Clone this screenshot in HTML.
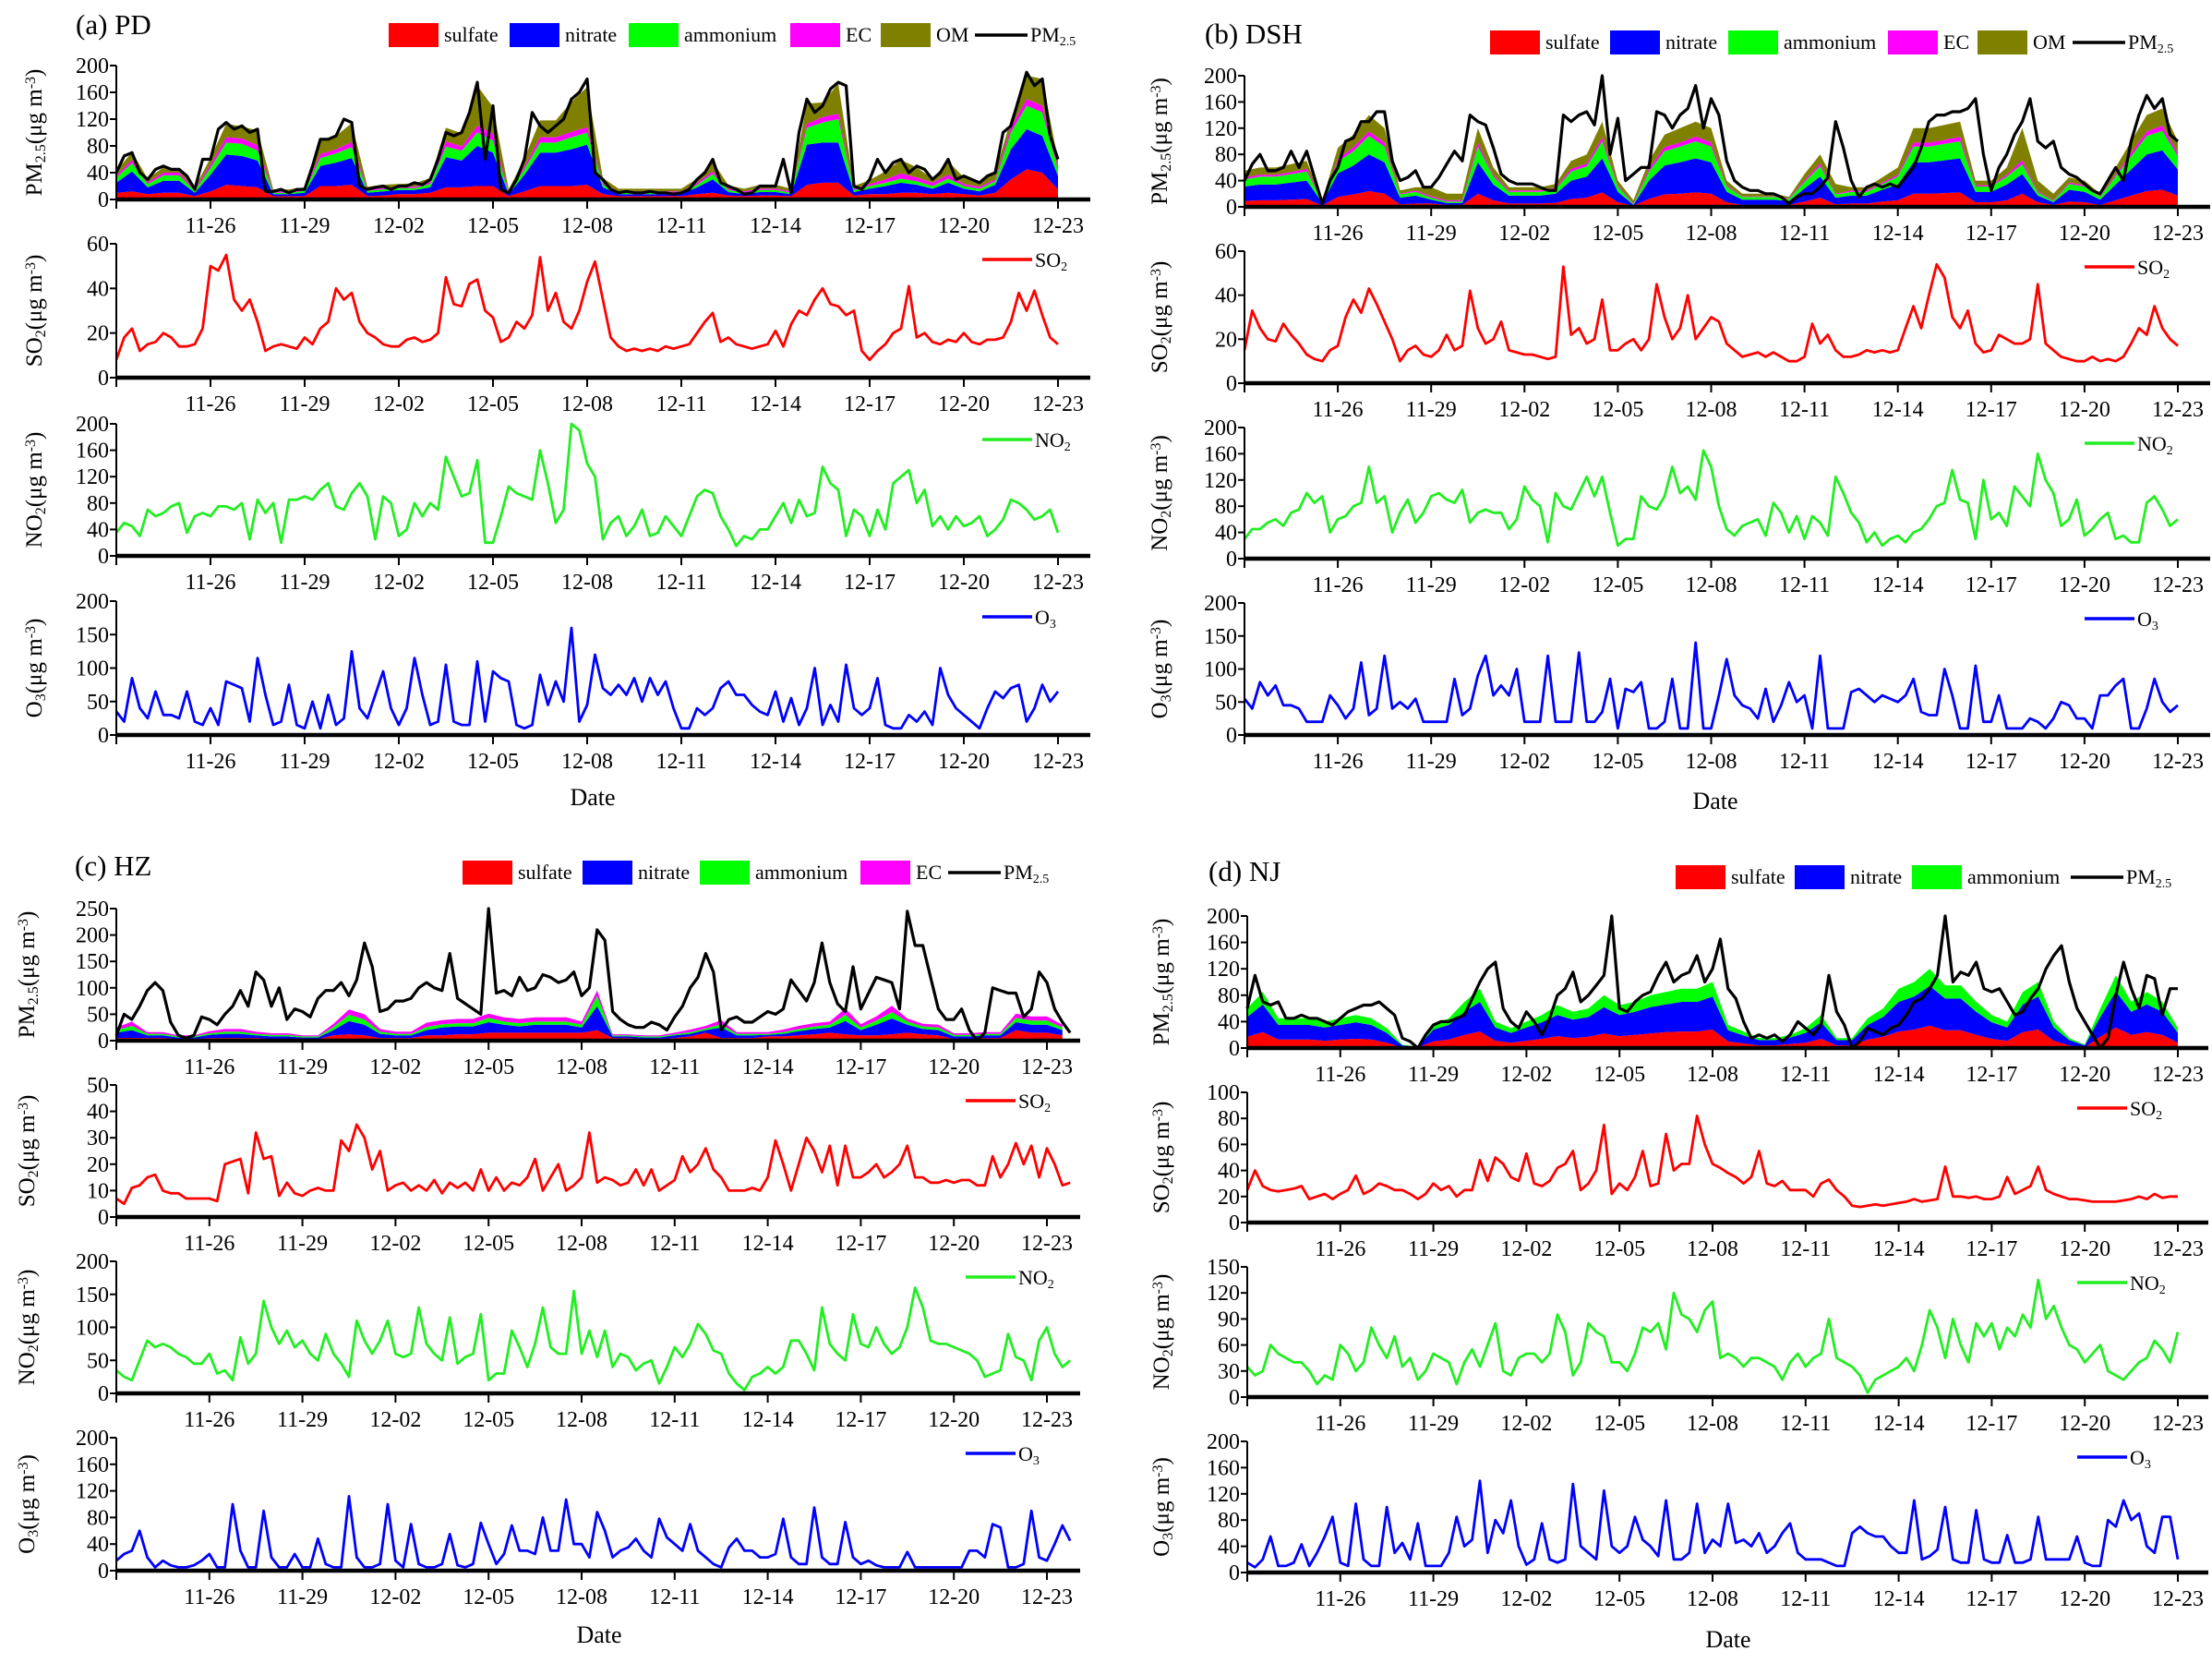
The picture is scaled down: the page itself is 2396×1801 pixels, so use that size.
<!DOCTYPE html>
<html><head><meta charset="utf-8">
<style>
html,body{margin:0;padding:0;background:#fff;}
svg{display:block;font-family:"Liberation Serif","DejaVu Serif",serif;}
</style></head>
<body>
<svg id="fig" xmlns="http://www.w3.org/2000/svg" width="2396" height="1801" viewBox="0 0 2396 1801">
<rect width="2396" height="1801" fill="#fff"/>
</svg>
<script>
// ---------- shared axis data ----------
const tickDays = [3,6,9,12,15,18,21,24,27,30];
const tickLabels = ['11-26','11-29','12-02','12-05','12-08','12-11','12-14','12-17','12-20','12-23'];

// ---------- (a) PD : 6-hourly lines, 12-hourly components ----------
const pdPM = [40,65,70,40, 30,45,50,45, 45,35,15,60, 60,105,115,105, 110,100,105,12, 12,15,10,15, 15,50,90,90, 95,120,115,20, 15,18,20,15, 20,20,25,22, 30,60,100,95, 100,130,175,60, 140,15,10,30, 60,130,110,100, 110,120,150,160, 180,40,30,15, 10,12,10,10, 12,10,10,8, 10,15,30,40, 60,25,20,15, 8,10,20,20, 20,60,10,100, 150,130,140,165, 175,170,20,15, 30,60,40,55, 60,40,50,45, 30,40,60,30, 35,30,25,35, 40,100,110,150, 190,170,180,95, 60];
const pdSulfate = [10,12, 8,10, 10,5, 12,22, 20,18, 5,5, 5,20, 20,22, 5,6, 8,8, 10,18, 18,20, 20,5, 12,20, 20,20, 22,8, 5,5, 5,5, 5,8, 10,6, 5,6, 6,5, 22,25, 25,6, 8,8, 10,10, 8,10, 8,6, 10,30, 45,40, 15];
const pdNitrate = [15,30, 10,18, 18,5, 25,45, 45,40, 3,3, 5,30, 35,40, 5,6, 6,6, 8,45, 40,60, 50,3, 25,50, 50,55, 60,10, 3,3, 3,3, 3,10, 20,5, 3,5, 5,3, 60,60, 60,5, 8,12, 15,12, 8,15, 8,6, 12,45, 60,55, 20];
const pdAmmonium = [8,12, 5,8, 8,3, 10,18, 18,15, 2,2, 3,12, 14,16, 3,3, 3,3, 5,16, 15,20, 18,2, 8,15, 15,18, 18,4, 2,2, 2,2, 2,4, 8,3, 2,3, 3,2, 25,30, 35,3, 4,5, 6,5, 4,6, 4,4, 5,25, 35,35, 10];
const pdEC = [3,5, 3,4, 4,2, 5,8, 8,8, 2,2, 2,6, 6,8, 2,2, 2,2, 3,8, 6,10, 10,2, 4,8, 8,8, 8,2, 2,2, 2,2, 2,3, 4,2, 2,2, 2,2, 6,8, 8,2, 3,5, 8,6, 5,6, 3,3, 3,8, 10,10, 4];
const pdOM = [6,12, 5,8, 6,3, 10,20, 18,22, 3,3, 3,20, 20,28, 4,5, 4,5, 6,20, 20,60, 40,3, 12,25, 25,45, 60,8, 4,4, 4,4, 4,6, 15,5, 4,6, 6,4, 30,22, 45,4, 6,12, 20,15, 6,20, 10,6, 10,12, 35,40, 10];
const pdSO2 = [8,18,22,12, 15,16,20,18, 14,14,15,22, 50,48,55,35, 30,35,25,12, 14,15,14,13, 18,15,22,25, 40,35,38,25, 20,18,15,14, 14,17,18,16, 17,20,45,33, 32,42,44,30, 27,16,18,25, 22,28,54,30, 38,25,22,30, 43,52,35,18, 14,12,13,12, 13,12,14,13, 14,15,20,25, 29,16,18,15, 14,13,14,15, 21,14,24,30, 28,35,40,33, 32,28,30,12, 8,12,15,20, 22,41,18,20, 16,15,17,16, 20,16,15,17, 17,18,25,38, 30,39,28,18, 15];
const pdNO2 = [35,50,45,30, 70,60,65,75, 80,35,60,65, 60,75,75,70, 80,25,85,65, 80,20,85,85, 90,85,100,110, 75,70,95,110, 90,25,90,80, 30,40,80,60, 80,70,150,120, 90,95,145,20, 20,60,105,95, 90,85,160,110, 50,70,200,190, 140,120,25,50, 60,30,45,70, 30,35,60,45, 30,60,90,100, 95,60,40,15, 30,25,40,40, 60,80,50,85, 60,65,135,110, 100,30,70,60, 30,70,40,110, 120,130,80,100, 45,60,40,60, 45,50,60,30, 40,55,85,80, 70,55,60,70, 35];
const pdO3 = [35,20,85,40, 25,65,30,30, 25,65,20,15, 40,15,80,75, 70,20,115,60, 15,20,75,15, 10,50,10,60, 15,25,125,40, 25,60,95,40, 15,40,115,60, 15,20,105,20, 15,15,110,20, 95,85,80,15, 10,15,90,45, 80,50,160,20, 45,120,70,60, 75,60,85,50, 85,60,80,40, 10,10,40,30, 40,70,80,60, 60,45,35,30, 65,20,55,15, 40,100,15,45, 20,105,40,30, 40,85,15,10, 10,30,20,35, 15,100,60,40, 30,20,10,40, 65,55,70,75, 20,40,75,50, 65];

// ---------- (b) DSH ----------
const dshPM = [40,65,80,55, 55,60,85,60, 85,45,5,40, 60,100,105,130, 130,145,145,70, 40,45,55,30, 30,45,65,85, 70,140,130,125, 90,50,40,35, 35,35,30,25, 25,140,130,140, 145,125,200,80, 135,40,50,60, 60,145,140,120, 140,150,185,120, 165,140,70,40, 30,25,25,20, 20,15,5,15, 20,20,30,45, 130,90,40,15, 30,35,30,35, 30,45,60,90, 130,140,140,145, 145,150,165,80, 25,60,80,110, 130,165,100,90, 100,60,50,45, 35,25,20,40, 60,40,100,140, 170,150,165,110, 100];
const dshSulfate = [9,10, 10,11, 12,2, 15,19, 24,20, 4,5, 5,3, 3,20, 10,5, 5,5, 6,12, 14,22, 7,2, 12,19, 20,22, 20,7, 3,3, 3,3, 8,14, 4,5, 5,8, 10,20, 20,21, 22,7, 7,10, 20,7, 3,8, 7,3, 10,17, 24,26, 17];
const dshNitrate = [22,24, 24,26, 28,4, 36,44, 56,48, 10,12, 6,3, 3,48, 24,12, 12,12, 14,28, 32,52, 16,1, 28,44, 48,52, 48,16, 8,8, 8,6, 20,32, 10,12, 12,18, 24,48, 48,50, 52,16, 16,24, 30,10, 4,18, 16,8, 24,40, 56,60, 40];
const dshAmmonium = [11,12, 12,13, 14,2, 18,22, 28,24, 5,6, 3,2, 2,24, 12,6, 6,6, 7,14, 16,26, 8,1, 14,22, 24,26, 24,8, 4,4, 4,3, 10,16, 5,6, 6,9, 12,24, 24,25, 26,8, 8,12, 15,5, 2,9, 8,4, 12,20, 28,30, 20];
const dshEC = [3,3, 3,3, 4,1, 4,6, 7,6, 1,2, 2,2, 2,6, 3,2, 2,2, 2,4, 4,6, 2,1, 4,6, 6,7, 6,2, 1,1, 1,1, 3,4, 1,2, 2,2, 3,6, 6,6, 7,2, 2,3, 6,2, 1,2, 2,1, 3,5, 7,8, 5];
const dshOM = [10,11, 11,12, 12,1, 17,19, 25,22, 5,5, 14,10, 10,22, 11,5, 5,5, 6,12, 14,24, 7,5, 12,19, 22,23, 22,7, 4,4, 4,2, 9,14, 15,5, 5,8, 11,22, 22,23, 23,7, 7,11, 49,16, 10,8, 7,4, 11,18, 25,26, 18];
const dshSO2 = [15,33,25,20, 19,27,22,18, 13,11,10,15, 17,30,38,32, 43,36,28,20, 10,15,17,13, 12,15,22,15, 17,42,25,18, 20,28,15,14, 13,13,12,11, 12,53,22,25, 18,20,38,15, 15,18,20,15, 20,45,30,20, 25,40,20,25, 30,28,18,15, 12,13,14,12, 14,12,10,10, 12,27,18,22, 15,12,12,13, 15,14,15,14, 15,25,35,25, 40,54,48,30, 25,33,18,14, 15,22,20,18, 18,20,45,18, 15,12,11,10, 10,12,10,11, 10,12,18,25, 22,35,25,20, 17];
const dshNO2 = [30,45,45,55, 60,50,70,75, 100,85,95,40, 60,65,80,85, 140,85,95,40, 70,90,55,70, 95,100,90,85, 105,55,70,75, 70,70,45,60, 110,90,80,25, 100,80,75,100, 125,95,125,70, 20,30,30,95, 80,75,95,140, 100,110,90,165, 140,80,45,35, 50,55,60,35, 85,70,40,65, 30,65,55,35, 125,100,70,55, 25,40,20,30, 35,25,40,45, 60,80,85,135, 90,85,30,120, 60,70,50,110, 95,80,160,120, 100,50,60,90, 35,45,60,70, 30,35,25,25, 85,95,75,50, 60];
const dshO3 = [55,40,80,60, 75,45,45,40, 20,20,20,60, 45,25,40,110, 30,40,120,40, 50,40,55,20, 20,20,20,85, 30,40,90,120, 60,75,60,100, 20,20,20,120, 20,20,20,125, 20,20,35,85, 10,70,65,80, 10,10,20,85, 10,10,140,10, 10,60,115,60, 45,40,25,70, 20,45,80,50, 60,10,120,10, 10,10,65,70, 60,50,60,55, 50,60,85,35, 30,30,100,60, 10,10,105,20, 20,60,10,10, 10,25,20,10, 25,50,45,25, 25,10,60,60, 75,85,10,10, 40,85,50,35, 45];

// ---------- (c) HZ ----------
const hzPM = [10,50,40,65, 95,110,95,35, 10,5,10,45, 40,30,50,65, 95,65,130,115, 65,100,40,60, 55,45,80,95, 95,110,85,115, 185,140,55,60, 75,75,80,100, 110,100,95,165, 80,70,60,50, 250,90,95,85, 120,95,100,125, 120,110,115,130, 85,100,210,190, 55,40,30,25, 25,35,30,20, 45,65,100,120, 165,130,20,40, 45,35,35,45, 55,50,60,115, 95,75,110,185, 110,70,55,140, 60,90,120,115, 110,60,245,180, 180,120,60,40, 40,60,20,0, 15,100,95,90, 90,45,60,130, 110,60,35,15];
const hzSulfate = [5,5, 5,5, 3,3, 5,5, 5,5, 3,3, 3,3, 10,12, 10,5, 5,5, 10,10, 12,12, 15,15, 15,15, 15,15, 15,20, 5,5, 3,3, 5,8, 15,5, 5,5, 8,8, 10,12, 15,12, 10,10, 12,15, 12,10, 3,3, 5,5, 20,15, 15,10];
const hzNitrate = [10,15, 5,5, 3,3, 6,8, 8,5, 5,5, 3,3, 10,25, 20,8, 5,5, 10,15, 15,15, 20,15, 12,15, 15,15, 10,45, 3,3, 3,3, 5,5, 5,20, 5,5, 3,5, 8,10, 10,25, 10,20, 30,15, 10,10, 5,5, 5,5, 15,15, 15,10];
const hzAmmonium = [5,8, 3,3, 2,2, 3,4, 4,3, 3,3, 2,2, 6,12, 10,4, 3,3, 6,6, 6,6, 8,6, 6,6, 6,6, 5,20, 2,2, 2,2, 2,3, 3,6, 3,3, 2,3, 4,5, 5,12, 5,8, 12,6, 5,5, 3,3, 3,3, 8,8, 8,5];
const hzEC = [5,8, 3,3, 2,2, 4,5, 5,4, 3,3, 2,2, 6,10, 10,5, 4,4, 8,8, 8,8, 8,8, 8,8, 8,8, 6,10, 2,2, 2,2, 3,5, 5,8, 3,3, 3,5, 6,6, 6,12, 6,8, 12,6, 5,5, 3,3, 3,3, 8,8, 8,5];
const hzSO2 = [7,5,11,12, 15,16,10,9, 9,7,7,7, 7,6,20,21, 22,9,32,22, 23,8,13,9, 8,10,11,10, 10,29,25,35, 30,18,25,10, 12,13,10,12, 10,14,9,13, 11,13,10,18, 10,15,10,13, 12,15,22,10, 15,20,10,12, 15,32,13,15, 14,12,13,18, 12,18,10,12, 14,23,17,20, 26,18,15,10, 10,10,11,10, 15,29,20,10, 20,30,25,17, 27,12,27,15, 15,17,20,15, 17,20,27,15, 15,13,13,14, 13,14,14,12, 12,23,15,20, 28,20,27,15, 26,20,12,13];
const hzNO2 = [35,25,20,50, 80,70,75,70, 60,55,45,45, 60,30,35,20, 85,45,60,140, 100,75,95,70, 80,60,50,90, 60,45,25,110, 80,60,80,110, 60,55,60,130, 75,60,50,115, 45,55,60,120, 20,30,30,95, 70,40,75,130, 70,60,60,155, 60,95,55,95, 40,60,55,35, 45,50,15,40, 70,55,75,105, 90,65,60,30, 15,5,25,30, 40,30,40,80, 80,60,35,130, 75,60,50,120, 75,70,100,75, 60,70,100,160, 130,80,75,75, 70,65,60,50, 25,30,35,90, 55,50,20,80, 100,60,40,50];
const hzO3 = [15,25,30,60,20,5,15,8,5,5, 8,15,25,5,5,100,30,5,5,90, 20,5,5,25,5,5,48,10,5,5, 112,20,5,5,10,100,15,5,70,10, 5,5,10,55,8,5,10,72,40,10, 25,68,30,30,25,80,30,30,107,40, 40,20,88,60,20,30,35,48,30,20, 78,50,40,30,70,30,20,10,5,35, 48,30,30,20,20,25,78,20,10,10, 95,20,10,10,73,20,10,15,8,5, 5,5,28,5,5,5,5,5,5,5, 30,30,20,70,65,5,5,10,90,20, 15,40,68,45];

// ---------- (d) NJ ----------
const njPM = [60,110,70,65, 70,45,45,50, 45,45,40,35, 45,55,60,65, 65,70,60,50, 15,10,0,20, 35,40,40,45, 50,75,100,120, 130,60,40,30, 55,40,20,45, 80,90,115,70, 80,95,110,200, 60,55,70,80, 85,110,130,100, 110,115,140,100, 120,165,90,75, 40,15,20,15, 20,10,20,40, 30,20,35,110, 55,35,0,10, 30,25,20,30, 35,50,70,75, 90,110,200,100, 115,110,130,90, 85,90,70,50, 55,75,90,120, 140,155,100,60, 40,20,0,15, 80,130,90,60, 110,105,50,90, 90];
const njSulfate = [17,24, 13,13, 13,11, 13,14, 13,8, 1,1, 10,13, 20,25, 11,8, 11,14, 18,15, 17,22, 18,20, 22,24, 25,25, 28,10, 7,4, 4,6, 8,14, 4,4, 13,17, 25,28, 34,27, 27,20, 14,11, 24,28, 11,4, 1,17, 31,20, 24,20, 8];
const njNitrate = [30,42, 22,22, 22,20, 22,25, 22,15, 3,1, 18,22, 35,45, 20,15, 20,25, 32,28, 30,40, 32,35, 40,42, 45,45, 50,17, 12,8, 8,10, 15,25, 8,8, 22,30, 45,50, 60,48, 48,35, 25,20, 42,50, 20,8, 3,30, 55,35, 42,35, 15];
const njAmmonium = [13,19, 10,10, 10,9, 10,11, 10,7, 1,0, 7,10, 15,20, 9,7, 9,11, 15,12, 13,18, 15,15, 18,19, 20,20, 22,8, 6,3, 3,4, 7,11, 3,3, 10,13, 20,22, 26,20, 20,15, 11,9, 19,22, 9,3, 1,13, 24,15, 19,15, 7];
const njSO2 = [25,40,28,25, 24,25,26,28, 18,20,22,18, 22,25,36,22, 25,30,28,25, 25,22,18,22, 30,25,28,20, 25,25,48,32, 50,45,35,32, 53,30,28,32, 42,45,55,25, 30,40,75,22, 30,25,35,55, 28,30,68,40, 45,45,82,60, 45,42,38,35, 30,35,55,30, 28,32,25,25, 25,20,30,33, 25,20,13,12, 13,14,13,14, 15,16,18,16, 17,18,43,20, 20,19,20,18, 18,20,35,22, 25,28,43,25, 22,20,18,18, 17,16,16,16, 16,17,18,20, 18,22,19,20, 20];
const njNO2 = [35,25,30,60, 50,45,40,40, 30,15,25,20, 60,50,30,40, 80,60,45,70, 35,45,20,30, 50,45,40,15, 40,55,35,60, 85,30,25,45, 50,50,40,50, 95,75,25,40, 85,75,70,40, 40,30,50,80, 75,85,55,120, 95,90,75,100, 110,45,50,45, 35,45,45,40, 35,20,40,50, 35,45,50,90, 45,40,35,25, 5,20,25,30, 35,45,30,60, 100,80,45,90, 60,40,85,70, 85,55,80,70, 95,80,135,90, 105,80,60,55, 40,50,60,30, 25,20,30,40, 45,65,55,40, 75];
const njO3 = [15,8,20,55,10,10,15,43,10,30, 55,85,15,10,105,20,10,10,100,30, 45,20,75,10,10,10,30,85,40,50, 140,30,80,60,110,40,12,20,75,20, 15,20,135,40,30,20,125,40,30,40, 85,50,40,25,110,20,20,30,105,30, 50,40,105,45,50,40,60,30,40,60, 75,30,20,20,20,15,10,10,60,70, 60,55,55,40,30,30,110,20,25,35, 100,20,15,15,95,20,15,15,57,15, 15,20,85,20,20,20,20,55,15,10, 10,80,70,110,80,90,40,30,85,85, 20];

// ---------- drawing ----------
const NS = 'http://www.w3.org/2000/svg';
const svg = document.getElementById('fig');
function mk(tag, attrs, parent) {
  const e = document.createElementNS(NS, tag);
  for (const k in attrs) e.setAttribute(k, attrs[k]);
  (parent || svg).appendChild(e);
  return e;
}
function sub(t, txt, shift, size) {
  const s = document.createElementNS(NS, 'tspan');
  s.setAttribute('baseline-shift', shift);
  s.setAttribute('font-size', size);
  s.textContent = txt;
  t.appendChild(s);
}
function plain(t, txt) {
  const s = document.createElementNS(NS, 'tspan');
  s.textContent = txt;
  t.appendChild(s);
}

const COL = {sulfate:'#ff0000', nitrate:'#0000ff', ammonium:'#00ff00', EC:'#ff00ff', OM:'#808000'};

function drawPanel(p) {
  const g = mk('g', {});
  
  
  const xs = d => p.day0 + d * p.perDay;
  const tt = mk('text', {x: p.titleX, y: p.titleY, 'font-size': 31, 'dominant-baseline': 'middle'}, g);
  tt.textContent = p.title;
  
  

  p.subs.forEach((s, si) => {
    const sg = mk('g', {}, g);
    
    
    const ys = v => s.y0 - (v / s.max) * (s.y0 - s.top);
    if (s.stack) {
      const n = Math.min.apply(null, s.stack.map(c => c.data.length));
      let lower = new Array(n).fill(0);
      s.stack.forEach(c => {
        const upper = lower.map((v, i) => v + c.data[i]);
        let pts = [];
        for (let i = 0; i < n; i++) pts.push(xs(i * 0.5).toFixed(1) + ',' + ys(Math.min(upper[i], s.max)).toFixed(1));
        for (let i = n - 1; i >= 0; i--) pts.push(xs(i * 0.5).toFixed(1) + ',' + ys(Math.min(lower[i], s.max)).toFixed(1));
        const poly = mk('polygon', {points: pts.join(' '), fill: COL[c.key], stroke: 'none'}, sg);
        
        
        lower = upper;
      });
    }
    const pts = s.line.map((v, i) => xs(i * 0.25).toFixed(1) + ',' + ys(v).toFixed(1)).join(' ');
    const pl = mk('polyline', {points: pts, fill: 'none', stroke: s.color, 'stroke-width': s.stack ? 3.2 : 2.8, 'stroke-linejoin': 'round'}, sg);
    
    
    const ya = mk('line', {x1: p.day0, y1: s.top, x2: p.day0, y2: s.y0, stroke: '#000', 'stroke-width': 2}, sg);
    
    
    const xa = mk('line', {x1: p.day0 - 1, y1: s.y0, x2: p.right, y2: s.y0, stroke: '#000', 'stroke-width': 4.5}, sg);
    
    
    for (let v = 0; v <= s.max + 1e-9; v += s.step) {
      const tk = mk('line', {x1: p.day0 - 7, y1: ys(v), x2: p.day0, y2: ys(v), stroke: '#000', 'stroke-width': 2}, sg);
      
      
      const tl = mk('text', {x: p.day0 - 8, y: ys(v) + 8, 'font-size': 24, 'text-anchor': 'end'}, sg);
      tl.textContent = String(Math.round(v));
      
      
    }
    const allTicks = [0].concat(tickDays);
    allTicks.forEach(d => {
      const tk = mk('line', {x1: xs(d), y1: s.y0, x2: xs(d), y2: s.y0 + 10, stroke: '#000', 'stroke-width': 2}, sg);
      
      
    });
    tickDays.forEach((d, i) => {
      const tl = mk('text', {x: xs(d), y: s.y0 + 36, 'font-size': 24, 'text-anchor': 'middle'}, sg);
      tl.textContent = tickLabels[i];
      
      
    });
    const cy = (s.top + s.y0) / 2;
    const yt = mk('text', {x: 0, y: 0, 'font-size': 25, 'text-anchor': 'middle', transform: 'translate(' + (p.yTitleX) + ',' + cy + ') rotate(-90)'}, sg);
    plain(yt, s.lab);
    sub(yt, s.labSub, '-25%', 16);
    plain(yt, '(\u03bcg m');
    sub(yt, '-3', '45%', 16);
    plain(yt, ')');
    
    
    if (!s.stack) {
      const ly = s.top + 17;
      const ll = mk('line', {x1: p.right + p.legOff, y1: ly, x2: p.right + p.legOff + 54, y2: ly, stroke: s.color, 'stroke-width': 3.5}, sg);
      
      
      const lt = mk('text', {x: p.right + p.legOff + 57, y: ly + 8, 'font-size': 22}, sg);
      plain(lt, s.lab);
      sub(lt, s.labSub, '-30%', 14);
      
      
    }
  });
  const lg = mk('g', {}, g);
  
  
  p.leg.boxes.forEach(b => {
    const r = mk('rect', {x: b[1], y: p.leg.y, width: 54, height: 26, fill: COL[b[0]]}, lg);
    
    
    const t = mk('text', {x: b[1] + 60, y: p.leg.y + 20, 'font-size': 22}, lg);
    t.textContent = b[0];
    
    
  });
  const ll = mk('line', {x1: p.leg.line, y1: p.leg.y + 13, x2: p.leg.line + 57, y2: p.leg.y + 13, stroke: '#000', 'stroke-width': 3.5}, lg);
  
  
  const lt = mk('text', {x: p.leg.line + 60, y: p.leg.y + 20, 'font-size': 22}, lg);
  plain(lt, 'PM');
  sub(lt, '2.5', '-30%', 14);
  
  
  const dt = mk('text', {x: p.dateX, y: p.dateY, 'font-size': 26, 'text-anchor': 'middle'}, g);
  dt.textContent = 'Date';
  
  
}

drawPanel({id:'pd', title:'(a) PD', titleX:82, titleY:30, day0:126, perDay:34.0, right:1181, yTitleX:45, legOff:-117, dateX:642, dateY:872,
  leg:{y:25, boxes:[['sulfate',421],['nitrate',552],['ammonium',681],['EC',856],['OM',954]], line:1056},
  subs:[
    {name:'pm25', lab:'PM', labSub:'2.5', top:71, y0:216, max:200, step:40, line:pdPM, color:'#000',
     stack:[{key:'sulfate',data:pdSulfate},{key:'nitrate',data:pdNitrate},{key:'ammonium',data:pdAmmonium},{key:'EC',data:pdEC},{key:'OM',data:pdOM}]},
    {name:'so2', lab:'SO', labSub:'2', top:264, y0:409, max:60, step:20, line:pdSO2, color:'#ff0000'},
    {name:'no2', lab:'NO', labSub:'2', top:459, y0:602, max:200, step:40, line:pdNO2, color:'#22ee22'},
    {name:'o3', lab:'O', labSub:'3', top:651, y0:796, max:200, step:50, line:pdO3, color:'#0000ff'}
  ]});

drawPanel({id:'dsh', title:'(b) DSH', titleX:1305, titleY:40, day0:1348, perDay:33.7, right:2394, yTitleX:1264, legOff:-136, dateX:1858, dateY:876,
  leg:{y:33, boxes:[['sulfate',1614],['nitrate',1744],['ammonium',1872],['EC',2045],['OM',2142]], line:2245},
  subs:[
    {name:'pm25', lab:'PM', labSub:'2.5', top:82, y0:224, max:200, step:40, line:dshPM, color:'#000',
     stack:[{key:'sulfate',data:dshSulfate},{key:'nitrate',data:dshNitrate},{key:'ammonium',data:dshAmmonium},{key:'EC',data:dshEC},{key:'OM',data:dshOM}]},
    {name:'so2', lab:'SO', labSub:'2', top:272, y0:415, max:60, step:20, line:dshSO2, color:'#ff0000'},
    {name:'no2', lab:'NO', labSub:'2', top:463, y0:605, max:200, step:40, line:dshNO2, color:'#22ee22'},
    {name:'o3', lab:'O', labSub:'3', top:653, y0:796, max:200, step:50, line:dshO3, color:'#0000ff'}
  ]});

drawPanel({id:'hz', title:'(c) HZ', titleX:81, titleY:941, day0:126, perDay:33.6, right:1170, yTitleX:37, legOff:-124, dateX:649, dateY:1779,
  leg:{y:932, boxes:[['sulfate',501],['nitrate',631],['ammonium',758],['EC',932]], line:1027},
  subs:[
    {name:'pm25', lab:'PM', labSub:'2.5', top:984, y0:1127, max:250, step:50, line:hzPM, color:'#000',
     stack:[{key:'sulfate',data:hzSulfate},{key:'nitrate',data:hzNitrate},{key:'ammonium',data:hzAmmonium},{key:'EC',data:hzEC}]},
    {name:'so2', lab:'SO', labSub:'2', top:1175, y0:1318, max:50, step:10, line:hzSO2, color:'#ff0000'},
    {name:'no2', lab:'NO', labSub:'2', top:1366, y0:1509, max:200, step:50, line:hzNO2, color:'#22ee22'},
    {name:'o3', lab:'O', labSub:'3', top:1557, y0:1701, max:200, step:40, line:hzO3, color:'#0000ff'}
  ]});

drawPanel({id:'nj', title:'(d) NJ', titleX:1309, titleY:947, day0:1351, perDay:33.6, right:2392, yTitleX:1266, legOff:-142, dateX:1872, dateY:1784,
  leg:{y:937, boxes:[['sulfate',1815],['nitrate',1944],['ammonium',2071]], line:2243},
  subs:[
    {name:'pm25', lab:'PM', labSub:'2.5', top:992, y0:1135, max:200, step:40, line:njPM, color:'#000',
     stack:[{key:'sulfate',data:njSulfate},{key:'nitrate',data:njNitrate},{key:'ammonium',data:njAmmonium}]},
    {name:'so2', lab:'SO', labSub:'2', top:1183, y0:1324, max:100, step:20, line:njSO2, color:'#ff0000'},
    {name:'no2', lab:'NO', labSub:'2', top:1372, y0:1513, max:150, step:30, line:njNO2, color:'#22ee22'},
    {name:'o3', lab:'O', labSub:'3', top:1561, y0:1703, max:200, step:40, line:njO3, color:'#0000ff'}
  ]});
</script>
</body></html>
